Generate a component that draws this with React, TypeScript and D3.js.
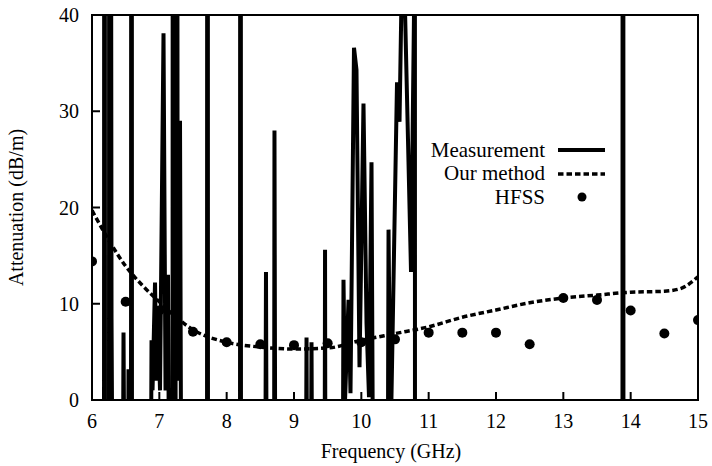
import React from "react";
import * as d3 from "d3";

const xTicks = [6, 7, 8, 9, 10, 11, 12, 13, 14, 15];
const yTicks = [0, 10, 20, 30, 40];

// Measurement trace (values beyond the axis range are clipped by the frame)
const measFreq = [
  6.0, 6.178, 6.186, 6.193, 6.252, 6.26, 6.29, 6.312, 6.453, 6.468, 6.49, 6.535, 6.542, 6.557,
  6.579, 6.587, 6.594, 6.869, 6.884, 6.899, 6.936, 6.958, 6.98, 7.01, 7.062, 7.092, 7.129, 7.151,
  7.196, 7.203, 7.211, 7.24, 7.255, 7.27, 7.292, 7.307, 7.329, 7.708, 7.715, 7.723, 8.198, 8.205,
  8.213, 8.569, 8.584, 8.599, 8.703, 8.71, 8.725, 9.171, 9.186, 9.2, 9.245, 9.26, 9.275, 9.453,
  9.461, 9.468, 9.72, 9.735, 9.758, 9.81, 9.839, 9.891, 9.928, 9.973, 10.032, 10.077, 10.114,
  10.151, 10.181, 10.389, 10.404, 10.434, 10.53, 10.567, 10.597, 10.611, 10.626, 10.634, 10.738,
  10.782, 10.79, 10.797, 13.878, 13.886, 13.893, 15.0,
];
const measAtt = [
  -20, -20, 200, -20, -20, 200, 8.5, -20, -20, 7.0, -20, -20, 3.2, -20,
  -20, 200, -20, -20, 6.2, 1, 12.2, 2, 9.5, 1, 38.1, 1, 13.0, -20,
  -20, 200, -20, -20, 200, 29.3, 2, 29, -20, -20, 200, -20, -20, 200,
  -20, -20, 13.3, -20, -20, 28, -20, -20, 6.5, -20, -20, 6.0, -20, -20,
  15.6, -20, -20, 12.5, 0, 10.4, 0.7, 36.6, 34.3, 3.4, 30.8, 8, 0.3,
  24.7, -20, -20, 17.7, -5, 33, 28.9, 42, 200, 200, 45, 13.3,
  40, 300, -20, -20, 300, -20, -20,
];

const ourFreq = [6.0, 6.25, 6.5, 6.75, 7.0, 7.25, 7.5, 8.0, 8.5, 9.0, 9.5, 10.0, 10.5, 11.0, 11.5, 12.0, 12.5, 13.0, 13.5, 14.0, 14.5, 14.75, 15.0];
const ourAtt = [19.7, 16.6, 13.9, 11.9, 10.2, 8.6, 7.3, 6.0, 5.5, 5.3, 5.4, 6.2, 6.9, 7.6, 8.6, 9.35, 10.1, 10.6, 10.9, 11.2, 11.3, 11.6, 12.8];

const hfssFreq = [6, 6.5, 7, 7.5, 8, 8.5, 9, 9.5, 10, 10.5, 11, 11.5, 12, 12.5, 13, 13.5, 14, 14.5, 15];
const hfssAtt = [14.4, 10.2, 9.3, 7.1, 6.0, 5.8, 5.7, 5.9, 6.0, 6.3, 7.0, 7.0, 7.0, 5.8, 10.6, 10.4, 9.3, 6.9, 8.3];

const legendLabels = ["Measurement", "Our method", "HFSS"];

const W = 712;
const H = 466;
const L = 92, R = 698, T = 15, B = 400;
const FONT = "'Liberation Serif', 'Times New Roman', serif";

export default function App() {
  const x = d3.scaleLinear().domain([6, 15]).range([L, R]);
  const y = d3.scaleLinear().domain([0, 40]).range([B, T]);

  const measLine = d3
    .line<number>()
    .x((_, i) => x(measFreq[i]))
    .y((d) => y(d));
  const ourLine = d3
    .line<number>()
    .x((_, i) => x(ourFreq[i]))
    .y((d) => y(d))
    .curve(d3.curveMonotoneX);

  return (
    <svg
      width={W}
      height={H}
      style={{ position: "absolute", left: 0, top: 0, background: "#fff" }}
      fontFamily={FONT}
    >
      <defs>
        <clipPath id="plotclip">
          <rect x={L} y={T} width={R - L} height={B - T} />
        </clipPath>
      </defs>
      <rect x={0} y={0} width={W} height={H} fill="#fff" />

      <g clipPath="url(#plotclip)">
        <path d={measLine(measAtt) || ""} fill="none" stroke="#000" strokeWidth={4} strokeLinejoin="miter" strokeMiterlimit={3} />
        <path d={ourLine(ourAtt) || ""} fill="none" stroke="#000" strokeWidth={3.5} strokeDasharray="5.5,3" />
        {hfssAtt.map((v, i) => (
          <circle key={i} cx={x(hfssFreq[i])} cy={y(v)} r={5} fill="#000" />
        ))}
      </g>

      {/* ticks */}
      {xTicks.map((t) => (
        <g key={"x" + t}>
          <line x1={x(t)} x2={x(t)} y1={B} y2={B - 8} stroke="#000" strokeWidth={2} />
          <text x={x(t)} y={428} textAnchor="middle" fontSize={20}>
            {t}
          </text>
        </g>
      ))}
      {yTicks.map((t) => (
        <g key={"y" + t}>
          <line x1={L} x2={L + 8} y1={y(t)} y2={y(t)} stroke="#000" strokeWidth={2} />
          <text x={79} y={y(t) + 7} textAnchor="end" fontSize={20}>
            {t}
          </text>
        </g>
      ))}

      <rect x={L} y={T} width={R - L} height={B - T} fill="none" stroke="#000" strokeWidth={2} />

      <text x={391} y={458} textAnchor="middle" fontSize={20}>
        Frequency (GHz)
      </text>
      <text transform={`translate(23, ${(T + B) / 2}) rotate(-90)`} textAnchor="middle" fontSize={20}>
        Attenuation (dB/m)
      </text>

      {/* legend */}
      <g fontSize={21}>
        <text x={545} y={157} textAnchor="end">{legendLabels[0]}</text>
        <line x1={558} x2={605} y1={150} y2={150} stroke="#000" strokeWidth={4} />
        <text x={545} y={180} textAnchor="end">{legendLabels[1]}</text>
        <line x1={558} x2={605} y1={174} y2={174} stroke="#000" strokeWidth={3.5} strokeDasharray="5.5,3" />
        <text x={545} y={204} textAnchor="end">{legendLabels[2]}</text>
        <circle cx={582} cy={197} r={4.5} fill="#000" />
      </g>
    </svg>
  );
}
